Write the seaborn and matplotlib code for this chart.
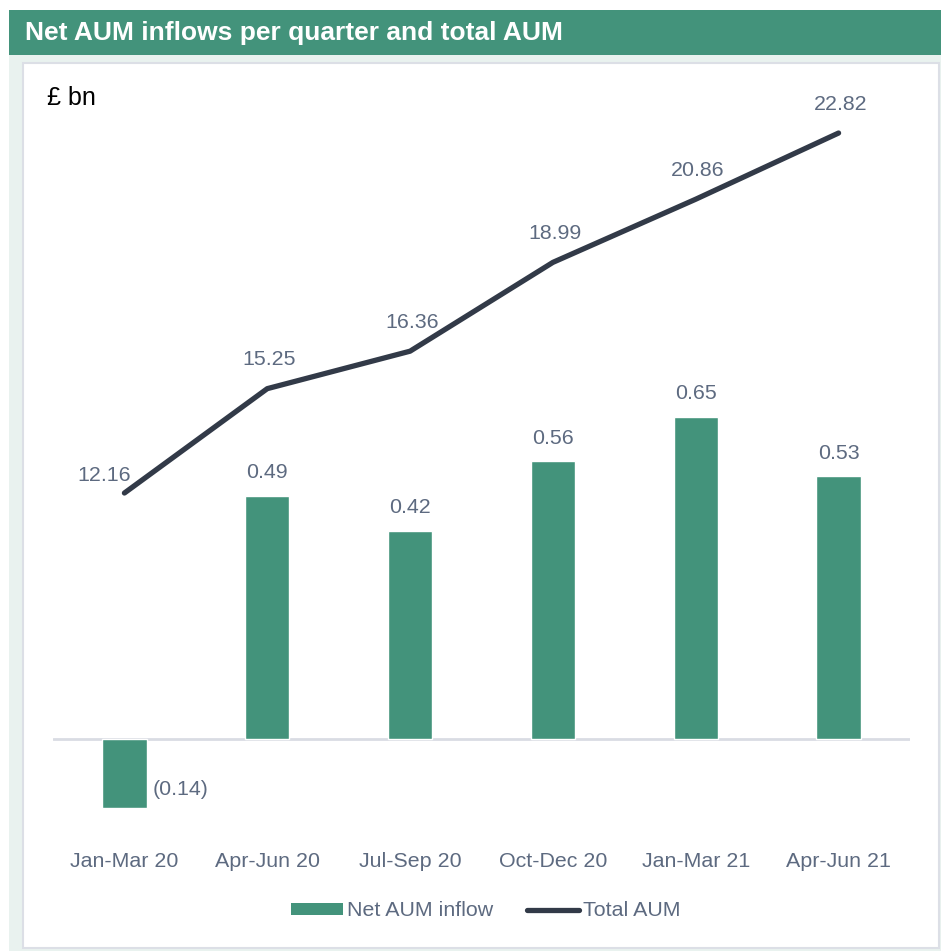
import matplotlib
matplotlib.use('Agg')
import matplotlib.pyplot as plt
import seaborn as sns
import numpy as np
from matplotlib.patches import Rectangle, Patch
from matplotlib.lines import Line2D

# data
quarters = ['Jan-Mar 20', 'Apr-Jun 20', 'Jul-Sep 20', 'Oct-Dec 20', 'Jan-Mar 21', 'Apr-Jun 21']
net_inflow = [-0.14, 0.49, 0.42, 0.56, 0.65, 0.53]
total_aum = [12.16, 15.25, 16.36, 18.99, 20.86, 22.82]

green = '#43937b'
dark = '#323a48'
grey_txt = '#5d6a80'
fs = 15.4

sns.set_theme(style='white')
plt.rcParams['font.family'] = ['Liberation Sans', 'DejaVu Sans']

W, H = 941, 951
fig = plt.figure(figsize=(W / 100, H / 100), dpi=100)

# background: mint frame, white panel, green header
fig.patches.append(Rectangle((9 / W, 0), 1 - 9 / W, 1 - 55 / H, transform=fig.transFigure,
                             facecolor='#e9f2ef', edgecolor='none', zorder=-3))
fig.patches.append(Rectangle((23 / W, 3 / H), 916 / W, (948 - 63) / H, transform=fig.transFigure,
                             facecolor='white', edgecolor='#dcdfe6', lw=1.5, zorder=-2))
fig.patches.append(Rectangle((9 / W, 1 - 55 / H), 1 - 9 / W, 45 / H, transform=fig.transFigure,
                             facecolor=green, edgecolor='none', zorder=-1))
fig.text(25 / W, 1 - 33 / H, 'Net AUM inflows per quarter and total AUM', color='white',
         fontsize=19, fontweight='bold', va='center', ha='left')
fig.text(47 / W, 1 - 98 / H, '£ bn', color='black', fontsize=18, va='center', ha='left')

ax = fig.add_axes([53 / W, 1 - 845 / H, 857 / W, 755 / H])
ax.set_facecolor('none')

sns.barplot(x=quarters, y=net_inflow, ax=ax, color=green, width=0.31, saturation=1, zorder=2)
ax.axhline(0, color='#d9dce3', lw=2, zorder=1)
ax.set_xlim(-0.5, 5.5)
ax.set_ylim(-0.2137, 1.3085)

ax2 = ax.twinx()
sns.lineplot(x=np.arange(len(quarters)), y=total_aum, ax=ax2, color=dark, lw=3.8,
             solid_capstyle='round')
ax2.set_ylim(1.737, 24.094)

for a in (ax, ax2):
    for s in a.spines.values():
        s.set_visible(False)
    a.set_yticks([])
    a.set_ylabel('')
ax.tick_params(axis='x', length=0, pad=5, labelsize=fs, labelcolor=grey_txt)
ax.set_xlabel('')

# bar value labels
for i, v in enumerate(net_inflow):
    if v < 0:
        ax.annotate(f'({abs(v):.2f})', (i + 0.155, v), xytext=(6, 9), textcoords='offset pixels',
                    ha='left', va='bottom', fontsize=fs, color=grey_txt)
    else:
        ax.annotate(f'{v:.2f}', (i, v), xytext=(0, 23), textcoords='offset pixels',
                    ha='center', va='center', fontsize=fs, color=grey_txt)

# line value labels
for i, v in enumerate(total_aum):
    off = (-20, 18) if i == 0 else (2, 29)
    ax2.annotate(f'{v:.2f}', (i, v), xytext=off, textcoords='offset pixels',
                 ha='center', va='center', fontsize=fs, color=grey_txt)

handles = [Patch(facecolor=green, edgecolor='none'),
           Line2D([], [], color=dark, lw=3.8, solid_capstyle='round')]
fig.legend(handles, ['Net AUM inflow', 'Total AUM'], loc='center', bbox_to_anchor=(486 / W, 1 - 911 / H),
           ncol=2, frameon=False, fontsize=fs, handlelength=2.4, handleheight=0.5,
           handletextpad=0.2, columnspacing=1.6, labelcolor=grey_txt)

fig.savefig('out.png', dpi=100)
